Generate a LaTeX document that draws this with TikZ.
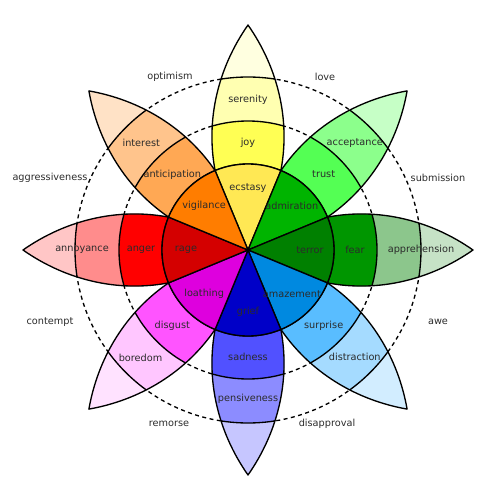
\documentclass[tikz,border=0pt]{standalone}
\usepackage{fontspec}
\setmainfont{DejaVu Sans}
\usepackage{tikz}
\usetikzlibrary{positioning, calc}
\definecolor{textgray}{HTML}{2B2B2B}
% joy
\definecolor{ecstasyc}{HTML}{FFE854}
\definecolor{joyc}{HTML}{FFFF54}
\definecolor{serenityc}{HTML}{FFFFB1}
\definecolor{joytip}{HTML}{FFFFE0}
% trust
\definecolor{admirationc}{HTML}{00B400}
\definecolor{trustc}{HTML}{54FF54}
\definecolor{acceptancec}{HTML}{8CFF8C}
\definecolor{trusttip}{HTML}{C6FFC6}
% fear
\definecolor{terrorc}{HTML}{008000}
\definecolor{fearc}{HTML}{009600}
\definecolor{apprehensionc}{HTML}{8CC68C}
\definecolor{feartip}{HTML}{C6E2C6}
% surprise
\definecolor{amazementc}{HTML}{0089E0}
\definecolor{surprisec}{HTML}{59BDFF}
\definecolor{distractionc}{HTML}{A5DBFF}
\definecolor{surprisetip}{HTML}{D2EDFF}
% sadness
\definecolor{griefc}{HTML}{0000C8}
\definecolor{sadnessc}{HTML}{5151FF}
\definecolor{pensivenessc}{HTML}{8C8CFF}
\definecolor{sadnesstip}{HTML}{C6C6FF}
% disgust
\definecolor{loathingc}{HTML}{DE00DE}
\definecolor{disgustc}{HTML}{FF54FF}
\definecolor{boredomc}{HTML}{FFC6FF}
\definecolor{disgusttip}{HTML}{FFE2FF}
% anger
\definecolor{ragec}{HTML}{D40000}
\definecolor{angerc}{HTML}{FF0000}
\definecolor{annoyancec}{HTML}{FF8C8C}
\definecolor{angertip}{HTML}{FFC6C6}
% anticipation
\definecolor{vigilancec}{HTML}{FF7D00}
\definecolor{anticipationc}{HTML}{FFA854}
\definecolor{interestc}{HTML}{FFC48C}
\definecolor{anticipationtip}{HTML}{FFE2C6}

\tikzset{
  petalline/.style={draw=black, line width=1pt, line join=round},
  dyadring/.style={draw=black, line width=1pt, dash pattern=on 3pt off 2.6pt},
  emo/.style={font=\fontsize{7.3}{8.8}\selectfont, text=textgray, inner sep=0pt},
}
\def\petalpath{(79.5,32.9) .. controls (130.4,42.5) and (182.3,29.9) .. (225,0)
  .. controls (182.3,-29.9) and (130.4,-42.5) .. (79.5,-32.9)
  arc[start angle=-22.5, end angle=22.5, radius=86] -- cycle}

\begin{document}
\begin{tikzpicture}[x=0.75pt, y=0.75pt]
    \useasboundingbox (-248,-251) rectangle (248,250);
    \draw[dyadring] (0,0) circle[radius=129];
    \draw[dyadring] (0,0) circle[radius=173];
    % petals and inner sectors
    \foreach \ang/\inc/\midc/\outc/\tipc in {
        90/ecstasyc/joyc/serenityc/joytip,
        45/admirationc/trustc/acceptancec/trusttip,
        0/terrorc/fearc/apprehensionc/feartip,
        -45/amazementc/surprisec/distractionc/surprisetip,
        -90/griefc/sadnessc/pensivenessc/sadnesstip,
        -135/loathingc/disgustc/boredomc/disgusttip,
        180/ragec/angerc/annoyancec/angertip,
        135/vigilancec/anticipationc/interestc/anticipationtip}{
      \begin{scope}[rotate=\ang]
        \fill[\tipc] \petalpath;
        \begin{scope}
          \clip \petalpath;
          \fill[\outc] (0,0) circle[radius=173];
          \fill[\midc] (0,0) circle[radius=129];
          \draw[petalline] (0,0) circle[radius=129] (0,0) circle[radius=173];
        \end{scope}
        \draw[petalline] \petalpath;
        \filldraw[petalline, fill=\inc] (0,0) -- (-22.5:86)
          arc[start angle=-22.5, end angle=22.5, radius=86] -- cycle;
      \end{scope}
    }
    % labels
    \foreach \ang/\ilab/\mlab/\olab/\orad in {
        90/ecstasy/joy/serenity/150,
        45/admiration/trust/acceptance/151,
        0/terror/fear/apprehension/173,
        -45/amazement/surprise/distraction/151,
        -90/grief/sadness/pensiveness/149,
        -135/loathing/disgust/boredom/152,
        180/rage/anger/annoyance/166,
        135/vigilance/anticipation/interest/151}{
      \node[emo] (\ilab) at (\ang:62) {\ilab};
      \node[emo] (\mlab) at (\ang:107) {\mlab};
      \node[emo] (\olab) at (\ang:\orad) {\olab};
    }
    % dyads between the petals
    \node[emo] (optimism) at (-78,173) {optimism};
    \node[emo] (love) at (77,173) {love};
    \node[emo] (aggressiveness) at (-198,72) {aggressiveness};
    \node[emo] (submission) at (190,72) {submission};
    \node[emo] (contempt) at (-198,-72) {contempt};
    \node[emo] (awe) at (190,-72) {awe};
    \node[emo] (remorse) at (-79,-174) {remorse};
    \node[emo] (disapproval) at (79,-174) {disapproval};
\end{tikzpicture}
\end{document}
